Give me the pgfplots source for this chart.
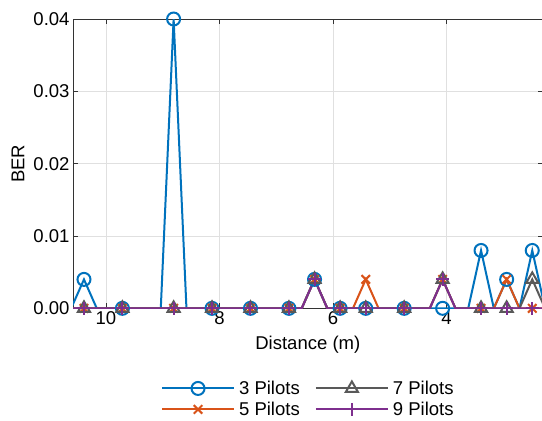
\documentclass[border=0pt]{standalone}
\usepackage{fontspec}
\setmainfont{Liberation Sans}
\usepackage{pgfplots}
\usepackage{pgfplotstable}
\pgfplotsset{compat=1.18}
\definecolor{mblue}{rgb}{0,0.447,0.741}
\definecolor{morange}{rgb}{0.851,0.325,0.098}
\definecolor{mgray}{rgb}{0.35,0.35,0.35}
\definecolor{mpurple}{rgb}{0.494,0.184,0.556}
\newcommand{\fs}{\fontsize{18.5}{22}\selectfont}

\pgfplotstableread{
x b o g p
10.614 0 0 0 0
10.388 0.004 0 0 0
10.163 0 0 0 0
9.937 0 0 0 0
9.711 0 0 0 0
9.486 0 0 0 0
9.260 0 0 0 0
9.035 0 0 0 0
8.809 0.04 0 0 0
8.583 0 0 0 0
8.358 0 0 0 0
8.132 0 0 0 0
7.906 0 0 0 0
7.681 0 0 0 0
7.455 0 0 0 0
7.230 0 0 0 0
7.004 0 0 0 0
6.778 0 0 0 0
6.553 0 0 0 0
6.327 0.004 0.004 0.004 0.004
6.102 0 0 0 0
5.876 0 0 0 0
5.650 0 0 0 0
5.425 0 0.004 0 0
5.199 0 0 0 0
4.973 0 0 0 0
4.748 0 0 0 0
4.522 0 0 0 0
4.297 0 0 0 0
4.071 0 0.004 0.004 0.004
3.845 0 0 0 0
3.620 0 0 0 0
3.394 0.008 0 0 0
3.169 0 0 0 0
2.943 0.004 0.004 0 0
2.717 0 0 0 0
2.492 0.008 0 0.004 0
2.266 0 0 0 0
}\fine

\pgfplotstableread{
x b o g p
10.388 0.004 0 0 0
9.711 0 0 0 0
8.809 0.04 0 0 0
8.132 0 0 0 0
7.455 0 0 0 0
6.778 0 0 0 0
6.327 0.004 0.004 0.004 0.004
5.876 0 0 0 0
5.425 0 0.004 0 0
4.748 0 0 0 0
4.071 0 0.004 0.004 0.004
3.394 0.008 0 0 0
2.943 0.004 0.004 0 0
2.492 0.008 0 0.004 0
}\marks

\begin{document}
\begin{tikzpicture}
\begin{axis}[
  at={(0,0)}, anchor=south west,
  scale only axis, width=469pt, height=289pt,
  x dir=reverse, xmin=2.31, xmax=10.58, ymin=0, ymax=0.04,
  xtick={4,6,8,10}, ytick={0,0.01,0.02,0.03,0.04},
  scaled y ticks=false,
  /pgf/number format/assume math mode=true,
  yticklabel style={/pgf/number format/.cd,fixed,fixed zerofill,precision=2},
  tick align=inside, major tick length=5pt,
  grid=major, major grid style={black!12,line width=0.8pt},
  axis line style={black!80,line width=0.9pt},
  tick style={black!80,line width=0.9pt},
  tick label style={font=\fs},
  label style={font=\fs},
  xlabel={Distance (m)}, ylabel={BER},
  xlabel style={at={(axis description cs:0.5,-0.1246)}, anchor=center},
  ylabel style={at={(axis description cs:-0.1173,0.5)}, anchor=center},
  legend columns=2,
  legend style={draw=none, fill=none, font=\fs,
    at={(axis description cs:0.5,-0.3131)}, anchor=center,
    inner sep=0pt, row sep=4pt,
    nodes={inner sep=1pt},
    /tikz/every odd column/.append style={column sep=3pt},
    /tikz/every even column/.append style={column sep=14pt}},
  legend image code/.code={\draw[mark repeat=2,mark phase=2] plot coordinates {(0pt,0pt) (36pt,0pt) (72pt,0pt)};},
  clip=true,
]
\addplot[mblue, line width=2pt, no marks, forget plot] table[x=x,y=b]{\fine};
\addplot[mblue, line width=2pt, only marks, mark=o, mark size=6.5pt, forget plot] table[x=x,y=b]{\marks};
\addplot[morange, line width=2pt, no marks, forget plot] table[x=x,y=o]{\fine};
\addplot[morange, line width=2pt, only marks, mark=x, mark size=6pt, forget plot] table[x=x,y=o]{\marks};
\addplot[mgray, line width=2pt, no marks, forget plot] table[x=x,y=g]{\fine};
\addplot[mgray, line width=2pt, only marks, mark=triangle, mark size=7pt, forget plot] table[x=x,y=g]{\marks};
\addplot[mpurple, line width=2pt, no marks, forget plot] table[x=x,y=p]{\fine};
\addplot[mpurple, line width=2pt, only marks, mark=+, mark size=6.5pt, forget plot] table[x=x,y=p]{\marks};

\addlegendimage{mblue, line width=2pt, mark=o, mark size=6.5pt}
\addlegendentry{3 Pilots}
\addlegendimage{mgray, line width=2pt, mark=triangle, mark size=7pt}
\addlegendentry{7 Pilots}
\addlegendimage{morange, line width=2pt, mark=x, mark size=6pt}
\addlegendentry{5 Pilots}
\addlegendimage{mpurple, line width=2pt, mark=+, mark size=6.5pt}
\addlegendentry{9 Pilots}
\end{axis}
\pgfresetboundingbox
\useasboundingbox (-73pt,-112pt) rectangle (468.4pt,308pt);
\end{tikzpicture}
\end{document}
